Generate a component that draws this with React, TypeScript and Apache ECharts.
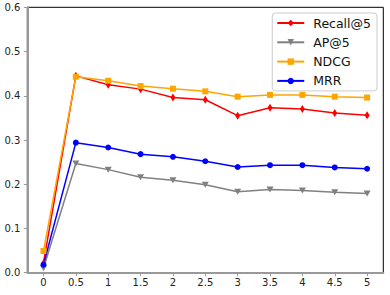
import React, { useEffect, useRef } from "react";
import * as echarts from "echarts";

const xValues = [0, 0.5, 1, 1.5, 2, 2.5, 3, 3.5, 4, 4.5, 5];
const recall5 = [0.022, 0.445, 0.425, 0.415, 0.396, 0.391, 0.355, 0.373, 0.370, 0.361, 0.356];
const ap5 = [0.01, 0.247, 0.233, 0.216, 0.209, 0.199, 0.183, 0.188, 0.186, 0.182, 0.179];
const ndcg = [0.049, 0.443, 0.434, 0.422, 0.416, 0.410, 0.398, 0.402, 0.402, 0.398, 0.396];
const mrr = [0.018, 0.294, 0.283, 0.268, 0.262, 0.252, 0.239, 0.243, 0.243, 0.238, 0.235];
const xTicks = [0, 0.5, 1, 1.5, 2, 2.5, 3, 3.5, 4, 4.5, 5];

const FONT = "DejaVu Sans";

export default function App() {
  const ref = useRef<HTMLDivElement>(null);
  useEffect(() => {
    if (!ref.current) return;
    const chart = echarts.init(ref.current, null, { renderer: "svg" });
    const mk = (name: string, data: number[], color: string, symbol: string, size: any, rotate = 0) => ({
      name,
      type: "line",
      data: xValues.map((x, i) => [x, data[i]]),
      symbol,
      symbolSize: size,
      symbolRotate: rotate,
      showAllSymbol: true,
      lineStyle: { color, width: 1.5 },
      itemStyle: { color },
      emphasis: { disabled: true },
    });
    chart.setOption({
      animation: false,
      textStyle: { fontFamily: FONT },
      grid: {
        left: 27.3,
        top: 7.3,
        right: 6.7,
        bottom: 22.3,
        show: true,
        borderColor: "#000",
        borderWidth: 1,
        backgroundColor: "transparent",
      },
      xAxis: {
        type: "value",
        min: -0.25,
        max: 5.25,
        splitLine: { show: false },
        axisLine: { show: true, onZero: false, lineStyle: { color: "#999", width: 2 } },
        axisTick: { show: true, length: 3.5, inside: false, customValues: xTicks, lineStyle: { color: "#999", width: 1 } },
        axisLabel: {
          customValues: xTicks,
          color: "#222",
          fontSize: 10,
          fontFamily: FONT,
          margin: 5,
          formatter: (v: number) => String(v),
        },
      },
      yAxis: {
        type: "value",
        min: 0,
        max: 0.6,
        interval: 0.1,
        splitLine: { show: false },
        axisLine: { show: true, onZero: false, lineStyle: { color: "#999", width: 2 } },
        axisTick: { show: true, length: 3.5, inside: false, lineStyle: { color: "#999", width: 1 } },
        axisLabel: {
          color: "#222",
          fontSize: 10,
          fontFamily: FONT,
          margin: 7,
          formatter: (v: number) => v.toFixed(1),
        },
      },
      legend: {
        orient: "vertical",
        right: 13,
        top: 13,
        padding: [3, 6, 3, 4],
        itemWidth: 27,
        itemHeight: 8,
        itemGap: 5.3,
        backgroundColor: "rgba(255,255,255,0.8)",
        borderColor: "#cccccc",
        borderWidth: 1,
        borderRadius: 3,
        textStyle: { fontSize: 12.5, fontFamily: FONT, color: "#111", lineHeight: 14, padding: [0, 0, 0, 4] },
        data: ["Recall@5", "AP@5", "NDCG", "MRR"],
      },
      series: [
        mk("Recall@5", recall5, "#ff0000", "diamond", [5, 8]),
        mk("AP@5", ap5, "#808080", "triangle", [7, 6], 180),
        mk("NDCG", ndcg, "#ffa500", "rect", 6),
        mk("MRR", mrr, "#0000ff", "circle", 6),
      ],
    });
    return () => chart.dispose();
  }, []);
  return (
    <div
      ref={ref}
      style={{ position: "fixed", left: 0, top: 0, width: 390, height: 295, background: "#fff" }}
    />
  );
}
